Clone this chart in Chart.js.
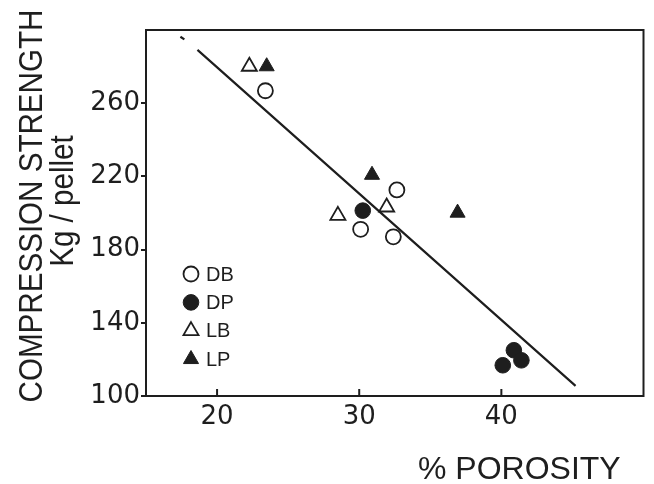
<!DOCTYPE html>
<html>
<head>
<meta charset="utf-8">
<script src="https://cdn.jsdelivr.net/npm/chart.js@4.4.0/dist/chart.umd.min.js"></script>
<style>
  body { margin: 0; background: #fff; }
</style>
</head>
<body>
<canvas id="canvas" width="654" height="484"></canvas>
<script>
// values: % porosity vs compression strength (Kg / pellet)
var dbPorosity = [23.4, 32.65, 30.1, 32.4];
var dbStrength = [266.8, 212.6, 191.1, 187.0];
var dpPorosity = [30.25, 40.88, 41.41, 40.1];
var dpStrength = [201.3, 125.0, 119.5, 116.8];
var lbPorosity = [22.27, 31.93, 28.5];
var lbStrength = [280.1, 203.2, 198.6];
var lpPorosity = [23.49, 30.9, 36.92];
var lpStrength = [280.1, 220.8, 200.1];
// fitted line (small broken stub at the top end, like the original)
var fitPorosity = [17.42, 17.7, 18.1, 18.62, 45.22];
var fitStrength = [296.3, 294.9, null, 289.1, 105.5];

var seriesNames = ['DB', 'DP', 'LB', 'LP'];
var xTicks = [20, 30, 40];
var yTicks = [100, 140, 180, 220, 260];

var ink = '#1e1e1e';

function toPoints(xs, ys) {
  var pts = [];
  for (var i = 0; i < xs.length; i++) pts.push({x: xs[i], y: ys[i]});
  return pts;
}

// frame, inward x ticks, axis titles, legend inside the plot
var decor = {
  id: 'decor',
  afterDraw: function(chart) {
    var ctx = chart.ctx, a = chart.chartArea;
    ctx.save();
    ctx.strokeStyle = ink;
    ctx.lineWidth = 2;
    ctx.strokeRect(a.left, a.top, a.right - a.left, a.bottom - a.top);

    var xs = chart.scales.x;
    xTicks.forEach(function(v) {
      var px = xs.getPixelForValue(v);
      ctx.beginPath();
      ctx.moveTo(px, a.bottom);
      ctx.lineTo(px, a.bottom - 7);
      ctx.stroke();
    });

    // y title, two lines, a bit condensed
    ctx.fillStyle = ink;
    ctx.textAlign = 'center';
    ctx.textBaseline = 'alphabetic';
    ctx.save();
    ctx.translate(42, 206);
    ctx.rotate(-Math.PI / 2);
    ctx.scale(0.87, 1);
    ctx.font = '34px "Liberation Sans", Arial, sans-serif';
    ctx.fillText('COMPRESSION STRENGTH', 0, 0);
    ctx.restore();
    ctx.save();
    ctx.translate(73, 201);
    ctx.rotate(-Math.PI / 2);
    ctx.scale(0.87, 1);
    ctx.font = '34px "Liberation Sans", Arial, sans-serif';
    ctx.fillText('Kg / pellet', 0, 0);
    ctx.restore();

    // x title
    ctx.font = '32px "Liberation Sans", Arial, sans-serif';
    ctx.textAlign = 'left';
    ctx.fillText('% POROSITY', 418, 479);

    // legend
    var lx = a.left + 45, ly = a.bottom - 122;
    ctx.font = '20px "Liberation Sans", Arial, sans-serif';
    ctx.textBaseline = 'middle';
    for (var i = 0; i < seriesNames.length; i++) {
      var ds = chart.data.datasets[i];
      var y = ly + i * 28.4;
      ctx.fillStyle = ds.backgroundColor;
      ctx.strokeStyle = ds.borderColor;
      ctx.lineWidth = ds.borderWidth;
      Chart.helpers.drawPoint(ctx, {
        pointStyle: ds.pointStyle, radius: ds.pointRadius, rotation: 0, borderWidth: ds.borderWidth
      }, lx, y);
      ctx.fillStyle = ink;
      ctx.fillText(seriesNames[i], lx + 15, y + 1);
    }
    ctx.restore();
  }
};

window.onload = function() {
  var ctx = document.getElementById('canvas').getContext('2d');
  window.myChart = new Chart(ctx, {
    type: 'scatter',
    data: {
      datasets: [{
        label: seriesNames[0],
        data: toPoints(dbPorosity, dbStrength),
        pointStyle: 'circle', pointRadius: 7.5,
        backgroundColor: '#fff', borderColor: ink, borderWidth: 1.8
      }, {
        label: seriesNames[1],
        data: toPoints(dpPorosity, dpStrength),
        pointStyle: 'circle', pointRadius: 7.8,
        backgroundColor: ink, borderColor: ink, borderWidth: 1
      }, {
        label: seriesNames[2],
        data: toPoints(lbPorosity, lbStrength),
        pointStyle: 'triangle', pointRadius: 8.7,
        backgroundColor: '#fff', borderColor: ink, borderWidth: 1.8
      }, {
        label: seriesNames[3],
        data: toPoints(lpPorosity, lpStrength),
        pointStyle: 'triangle', pointRadius: 8.7,
        backgroundColor: ink, borderColor: ink, borderWidth: 1
      }, {
        type: 'line',
        label: 'fit',
        data: toPoints(fitPorosity, fitStrength),
        borderColor: ink, borderWidth: 2.2,
        pointRadius: 0, spanGaps: false, fill: false
      }]
    },
    options: {
      responsive: false,
      animation: false,
      layout: { padding: { top: 30, right: 6, left: 0, bottom: 0 } },
      plugins: {
        legend: { display: false },
        tooltip: { enabled: false }
      },
      scales: {
        x: {
          type: 'linear', min: 15, max: 50,
          afterBuildTicks: function(s) { s.ticks = xTicks.map(function(v) { return {value: v}; }); },
          afterFit: function(s) { s.height = 88; },
          grid: { drawOnChartArea: false, drawTicks: false },
          border: { display: true, color: ink, width: 2 },
          ticks: { color: ink, padding: 6, font: { family: '"DejaVu Sans"', size: 26 } }
        },
        y: {
          type: 'linear', min: 100, max: 300,
          afterBuildTicks: function(s) { s.ticks = yTicks.map(function(v) { return {value: v}; }); },
          afterFit: function(s) { s.width = 146; },
          grid: { drawOnChartArea: false, tickLength: 5, color: ink, lineWidth: 2 },
          border: { display: true, color: ink, width: 2 },
          ticks: { color: ink, padding: 1, font: { family: '"DejaVu Sans"', size: 26 } }
        }
      }
    },
    plugins: [decor]
  });
};
</script>
</body>
</html>
